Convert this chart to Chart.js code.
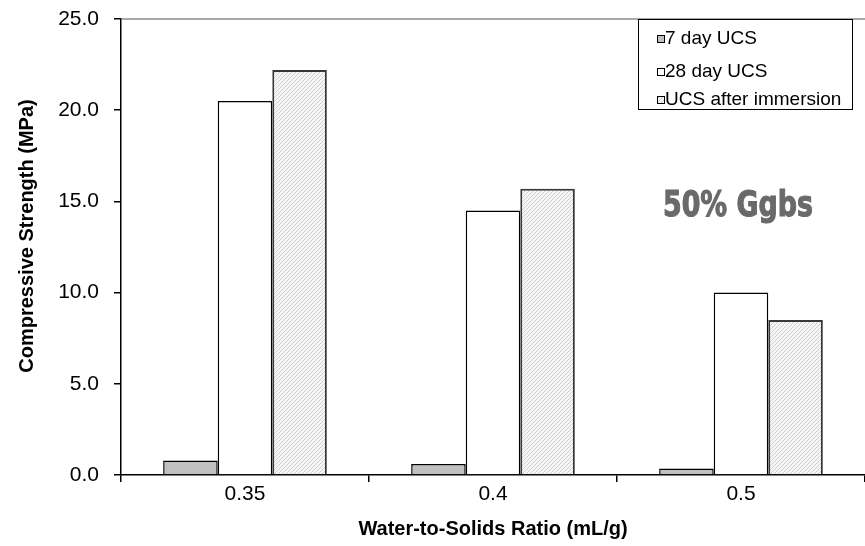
<!DOCTYPE html>
<html lang="en">
<head>
    <meta charset="UTF-8">
    <script src="https://cdn.jsdelivr.net/npm/chart.js"></script>
    <title>Compressive Strength</title>
    <style>
        body { margin: 0; background: #fff; overflow: hidden; }
        #wrap { width: 865px; height: 546px; position: relative; }
    </style>
</head>
<body>
    <div id="wrap"><canvas id="graficoUCS"></canvas></div>

<script>
    // water-to-solids ratios and strengths (MPa)
    var razoes = ['0.35', '0.4', '0.5'];
    var ucs7dias = [0.8, 0.6, 0.35];
    var ucs28dias = [20.5, 14.5, 10.0];
    var ucsImersao = [22.2, 15.7, 8.5];
    var ticksY = [0, 5, 10, 15, 20, 25];

    var nomesSeries = ['7 day UCS', '28 day UCS', 'UCS after immersion'];
    var tituloX = 'Water-to-Solids Ratio (mL/g)';
    var tituloY = 'Compressive Strength (MPa)';
    var rotulo = '50% Ggbs';

    var fonte = '"Liberation Sans", Arial, sans-serif';

    // fine diagonal hatch for the immersion bars
    function criarHachura() {
        var c = document.createElement('canvas');
        c.width = 4;
        c.height = 4;
        var ctx = c.getContext('2d');
        ctx.fillStyle = '#f6f6f6';
        ctx.fillRect(0, 0, 4, 4);
        ctx.fillStyle = '#cdcdcd';
        for (var i = 0; i < 4; i++) {
            ctx.fillRect(i, 3 - i, 1, 1);
        }
        return ctx.createPattern(c, 'repeat');
    }

    var hachura = criarHachura();
    var ucsCores = ['#c0c0c0', '#ffffff'];

    var extras = {
        id: 'extras',
        beforeDatasetsDraw: function (chart) {
            var ctx = chart.ctx;
            var a = chart.chartArea;
            ctx.save();
            ctx.strokeStyle = '#8c8c8c';
            ctx.lineWidth = 1.5;
            ctx.beginPath();
            ctx.moveTo(a.left, a.top);
            ctx.lineTo(a.right, a.top);
            ctx.stroke();
            ctx.restore();
        },
        afterDraw: function (chart) {
            var ctx = chart.ctx;
            var a = chart.chartArea;
            ctx.save();

            // legend box
            var bx = a.right - 227, by = a.top, bw = 214, bh = 90;
            ctx.fillStyle = '#fff';
            ctx.fillRect(bx, by, bw, bh);
            ctx.strokeStyle = '#000';
            ctx.lineWidth = 1;
            ctx.strokeRect(bx + 0.5, by + 0.5, bw, bh);

            var cores = [ucsCores[0], ucsCores[1], hachura];
            var linhas = [19, 52, 80];
            ctx.font = '19px ' + fonte;
            ctx.textBaseline = 'middle';
            for (var i = 0; i < nomesSeries.length; i++) {
                var y = by + linhas[i];
                ctx.fillStyle = cores[i];
                ctx.fillRect(bx + 19, y - 3, 7, 7);
                ctx.strokeStyle = '#000';
                ctx.strokeRect(bx + 19.5, y - 2.5, 7, 7);
                ctx.fillStyle = '#000';
                ctx.fillText(nomesSeries[i], bx + 27, y + 1);
            }

            // condensed annotation
            ctx.fillStyle = '#6a6a6a';
            ctx.strokeStyle = '#6a6a6a';
            ctx.lineWidth = 1.2;
            ctx.font = 'bold 35px "DejaVu Sans", sans-serif';
            ctx.textBaseline = 'alphabetic';
            var w = ctx.measureText(rotulo).width;
            ctx.translate(663, 216);
            ctx.scale(150 / w, 1);
            ctx.fillText(rotulo, 0, 0);
            ctx.strokeText(rotulo, 0, 0);
            ctx.setTransform(1, 0, 0, 1, 0, 0);

            // axis titles
            ctx.fillStyle = '#000';
            ctx.font = 'bold 20px ' + fonte;
            ctx.textAlign = 'center';
            ctx.textBaseline = 'middle';
            ctx.fillText(tituloX, (a.left + a.right) / 2, 529);

            ctx.translate(27, 236);
            ctx.rotate(-Math.PI / 2);
            ctx.fillText(tituloY, 0, 0);
            ctx.restore();
        }
    };

    var dados = {
        labels: razoes,
        datasets: [{
            label: nomesSeries[0],
            data: ucs7dias,
            backgroundColor: ucsCores[0],
            borderColor: '#000',
            borderWidth: 1.5
        },
        {
            label: nomesSeries[1],
            data: ucs28dias,
            backgroundColor: ucsCores[1],
            borderColor: '#000',
            borderWidth: 1.5
        },
        {
            label: nomesSeries[2],
            data: ucsImersao,
            backgroundColor: hachura,
            borderColor: '#383838',
            borderWidth: 2
        }]
    };

    var config = {
        type: 'bar',
        data: dados,
        options: {
            responsive: true,
            maintainAspectRatio: false,
            animation: false,
            layout: { padding: { top: 19, right: 0, left: 0, bottom: 0 } },
            datasets: {
                bar: {
                    categoryPercentage: 0.66,
                    barPercentage: 1
                }
            },
            plugins: {
                legend: { display: false },
                tooltip: { enabled: false }
            },
            scales: {
                x: {
                    grid: {
                        offset: true,
                        drawOnChartArea: false,
                        tickLength: 7,
                        color: '#000',
                        lineWidth: 1.5
                    },
                    border: { color: '#000', width: 1.5 },
                    ticks: {
                        color: '#000',
                        padding: 0,
                        font: { family: fonte, size: 21 }
                    },
                    afterFit: function (s) {
                        s.height = 71;
                        s.paddingLeft = 0;
                        s.paddingRight = 0;
                    }
                },
                y: {
                    min: ticksY[0],
                    max: ticksY[ticksY.length - 1],
                    afterBuildTicks: function (s) {
                        s.ticks = ticksY.map(function (v) { return { value: v }; });
                    },
                    grid: {
                        drawOnChartArea: false,
                        tickLength: 7,
                        color: '#000',
                        lineWidth: 1.5
                    },
                    border: { color: '#000', width: 1.5 },
                    ticks: {
                        color: '#000',
                        padding: 15,
                        font: { family: fonte, size: 21 },
                        callback: function (v) { return v.toFixed(1); }
                    },
                    afterFit: function (s) {
                        s.width = 121;
                        s.paddingTop = 0;
                        s.paddingBottom = 0;
                    }
                }
            }
        },
        plugins: [extras]
    };

    var grafico = new Chart(document.getElementById('graficoUCS'), config);
</script>
</body>
</html>
